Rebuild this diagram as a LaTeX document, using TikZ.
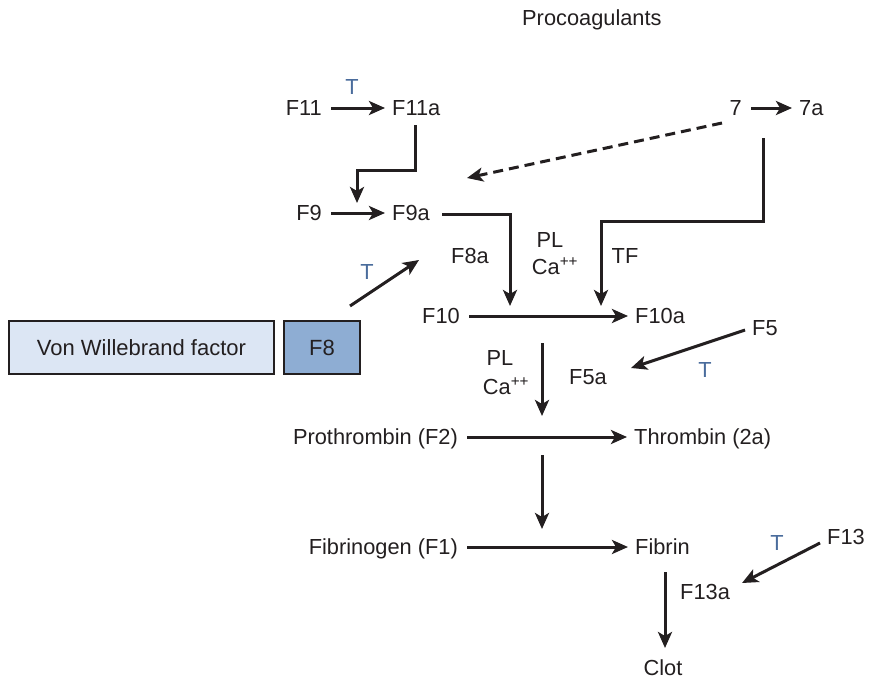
\documentclass[tikz,border=0pt]{standalone}
\usepackage{fontspec}
\setmainfont{Liberation Sans}
\usetikzlibrary{arrows.meta}
\definecolor{ink}{HTML}{231F20}
\definecolor{tblue}{HTML}{4A6C9C}
\definecolor{vwffill}{HTML}{DCE6F4}
\definecolor{eightfill}{HTML}{8EADD3}
\begin{document}
\begin{tikzpicture}[x=1pt,y=-1pt,
  lbl/.style={font=\fontsize{21.8}{23}\selectfont, inner sep=0pt, anchor=base, text=ink, text height=15pt, text depth=1pt},
  tlbl/.style={lbl, text=tblue},
  arr/.style={draw=ink, line width=3pt, -{Stealth[length=16pt,width=14pt,inset=4pt]}},
  box/.style={draw=ink, line width=2.4pt, inner sep=0pt, text=ink, font=\fontsize{22}{24}\selectfont},
  hgap/.style={shorten <=9pt, shorten >=7pt}
]
\useasboundingbox (0,0) rectangle (869,680);

% labels
\node[lbl, anchor=base west] (proc) at (522,25) {Procoagulants};
\node[lbl, anchor=base east] (F11) at (322,115) {F11};
\node[lbl, anchor=base west] (F11a) at (392,115) {F11a};
\node[tlbl] (T1) at (352,94) {T};
\node[lbl, anchor=base east] (S7) at (742,115) {7};
\node[lbl, anchor=base west] (S7a) at (799,115) {7a};
\node[lbl, anchor=base east] (F9) at (322,220) {F9};
\node[lbl, anchor=base west] (F9a) at (392,220) {F9a};
\node[lbl] (PL1) at (550,247) {PL};
\node[lbl] (Ca1) at (555,274) {Ca\textsuperscript{++}};
\node[lbl] (F8a) at (470,263) {F8a};
\node[lbl] (TF) at (625,263) {TF};
\node[tlbl] (T2) at (367,279) {T};
\node[lbl, anchor=base east] (F10) at (460,323) {F10};
\node[lbl, anchor=base west] (F10a) at (635,323) {F10a};
\node[lbl, anchor=base west] (F5) at (752,335) {F5};
\node[lbl] (F5a) at (588,384) {F5a};
\node[tlbl] (T3) at (705,377) {T};
\node[lbl] (PL2) at (500,365) {PL};
\node[lbl] (Ca2) at (506,394) {Ca\textsuperscript{++}};
\node[lbl, anchor=base east] (F2) at (458,444) {Prothrombin (F2)};
\node[lbl, anchor=base west] (F2a) at (634,444) {Thrombin (2a)};
\node[lbl, anchor=base east] (F1) at (458,554) {Fibrinogen (F1)};
\node[lbl, anchor=base west] (Fib) at (635,554) {Fibrin};
\node[lbl, anchor=base west] (F13) at (827,544) {F13};
\node[tlbl] (T4) at (777,550) {T};
\node[lbl, anchor=base west] (F13a) at (680,599) {F13a};
\node[lbl] (Clot) at (663,675) {Clot};

% boxes
\node[box, fill=vwffill, minimum width=265pt, minimum height=53pt] (vwf) at (141.5,347.5) {Von Willebrand factor};
\node[box, fill=eightfill, minimum width=76pt, minimum height=53pt] (F8) at (322,347.5) {F8};

% coordinates for elbows and free ends
\coordinate (e1a) at (415,125);
\coordinate (e1b) at (415,170);
\coordinate (e1c) at (357,170);
\coordinate (e1d) at (357,203);
\coordinate (e2a) at (442,214);
\coordinate (e2b) at (510,214);
\coordinate (e2c) at (510,306);
\coordinate (e3a) at (763,138);
\coordinate (e3b) at (763,221);
\coordinate (e3c) at (601,221);
\coordinate (e3d) at (601,306);
\coordinate (d1) at (722,123);
\coordinate (d2) at (467,178);
\coordinate (t8a) at (350,306);
\coordinate (t8b) at (419,260);
\coordinate (f5s) at (745,330);
\coordinate (f5e) at (631,368);
\coordinate (v1a) at (542,343);
\coordinate (v1b) at (542,416);
\coordinate (v2a) at (542,455);
\coordinate (v2b) at (542,529);
\coordinate (f13s) at (820,543);
\coordinate (f13e) at (742,583);
\coordinate (c1) at (665,572);
\coordinate (c2) at (665,648);

% connectors
\draw[arr, hgap] (F11) -- (F11a);
\draw[arr, hgap] (F9) -- (F9a);
\draw[arr, hgap] (S7) -- (S7a);
\draw[arr, hgap] (F10) -- (F10a);
\draw[arr, hgap] (F2) -- (F2a);
\draw[arr, hgap] (F1) -- (Fib);
\draw[arr] (e1a) -- (e1b) -- (e1c) -- (e1d);
\draw[arr] (e2a) -- (e2b) -- (e2c);
\draw[arr] (e3a) -- (e3b) -- (e3c) -- (e3d);
\draw[arr, dash pattern=on 10pt off 6pt] (d1) -- (d2);
\draw[arr] (t8a) -- (t8b);
\draw[arr] (f5s) -- (f5e);
\draw[arr] (v1a) -- (v1b);
\draw[arr] (v2a) -- (v2b);
\draw[arr] (f13s) -- (f13e);
\draw[arr] (c1) -- (c2);
\end{tikzpicture}
\end{document}
